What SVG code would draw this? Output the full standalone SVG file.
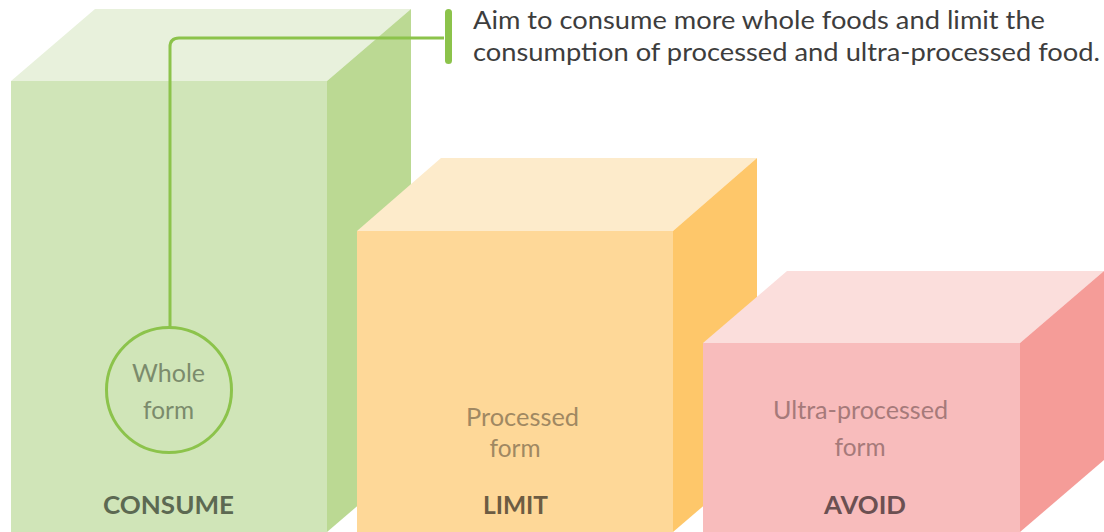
<svg xmlns="http://www.w3.org/2000/svg" width="1104" height="532" viewBox="0 0 1104 532">
  <style>
    .body { font-family: Lato, "Open Sans", "Liberation Sans", sans-serif; }
    .note { font-size: 25px; fill: #3d3d3d; }
    .form { font-size: 25px; text-anchor: middle; }
    .tag { font-size: 24px; font-weight: 700; text-anchor: middle; }
    .link { fill: none; stroke: #8cc34b; stroke-width: 3; }
  </style>
  <rect width="1104" height="532" fill="#ffffff"/>

  <!-- Consume block -->
  <g id="consume">
    <polygon points="11,81 95,9 411,9 327,81" fill="#e8f1dc"/>
    <polygon points="327,81 411,9 411,460 327,532" fill="#bbd993"/>
    <rect x="11" y="81" width="316" height="451" fill="#d0e5b8"/>
  </g>

  <!-- Limit block -->
  <g id="limit">
    <polygon points="357,231 441,158 757,158 673,231" fill="#fdebcb"/>
    <polygon points="673,231 757,158 757,460 673,532" fill="#fec76a"/>
    <rect x="357" y="231" width="316" height="301" fill="#fed898"/>
  </g>

  <!-- Avoid block -->
  <g id="avoid">
    <polygon points="703,343 787,271 1104,271 1020,343" fill="#fbdedc"/>
    <polygon points="1020,343 1104,271 1104,460 1020,532" fill="#f59c98"/>
    <rect x="703" y="343" width="317" height="189" fill="#f8bcbc"/>
  </g>

  <!-- Callout connector -->
  <g id="connectors">
    <path class="link" d="M444,38 H179 Q170,38 170,47 V327"/>
    <rect x="445" y="9" width="7" height="55" rx="3.5" fill="#8cc34b"/>
  </g>

  <g id="note" class="body">
    <text class="note" x="473" y="29" textLength="572" lengthAdjust="spacingAndGlyphs">Aim to consume more whole foods and limit the</text>
    <text class="note" x="473" y="61" textLength="627" lengthAdjust="spacingAndGlyphs">consumption of processed and ultra-processed food.</text>
  </g>

  <g id="whole-form" class="body">
    <circle cx="169" cy="390" r="62.5" fill="none" stroke="#8cc34b" stroke-width="3"/>
    <text class="form" x="168.5" y="382" fill="#7b8b6c" textLength="73" lengthAdjust="spacingAndGlyphs">Whole</text>
    <text class="form" x="168.5" y="419" fill="#7b8b6c" textLength="51" lengthAdjust="spacingAndGlyphs">form</text>
  </g>

  <g id="processed-form" class="body">
    <text class="form" x="522.5" y="426" fill="#a08862" textLength="113" lengthAdjust="spacingAndGlyphs">Processed</text>
    <text class="form" x="515" y="457" fill="#a08862" textLength="51" lengthAdjust="spacingAndGlyphs">form</text>
  </g>

  <g id="ultra-processed-form" class="body">
    <text class="form" x="860.5" y="419" fill="#a67a7a" textLength="175" lengthAdjust="spacingAndGlyphs">Ultra-processed</text>
    <text class="form" x="860" y="456" fill="#a67a7a" textLength="51" lengthAdjust="spacingAndGlyphs">form</text>
  </g>

  <g id="labels" class="body">
    <text class="tag" x="168.5" y="514" fill="#5c6952" textLength="131" lengthAdjust="spacingAndGlyphs">CONSUME</text>
    <text class="tag" x="515.5" y="514" fill="#6d5c42" textLength="65" lengthAdjust="spacingAndGlyphs">LIMIT</text>
    <text class="tag" x="865" y="514" fill="#6b5052" textLength="82" lengthAdjust="spacingAndGlyphs">AVOID</text>
  </g>
</svg>
